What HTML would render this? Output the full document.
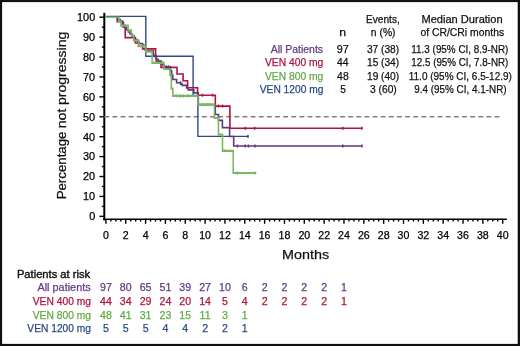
<!DOCTYPE html>
<html><head><meta charset="utf-8"><style>
html,body{margin:0;padding:0;background:#fff;}
body{width:520px;height:346px;overflow:hidden;}
svg{position:absolute;left:0;top:0;will-change:transform;}
text{font-family:"Liberation Sans",sans-serif;stroke:currentColor;stroke-width:0.25px;}
</style></head><body>
<svg width="520" height="346" viewBox="0 0 520 346">
<rect x="0" y="0" width="520" height="346" fill="#fff"/>
<line x1="104.3" y1="12.8" x2="104.3" y2="220.4" stroke="#000" stroke-width="2"/>
<line x1="103.3" y1="219.2" x2="506.9" y2="219.2" stroke="#000" stroke-width="1.4"/>
<line x1="99.4" y1="216.35" x2="104.3" y2="216.35" stroke="#000" stroke-width="1.4"/>
<line x1="101.8" y1="206.39" x2="104.3" y2="206.39" stroke="#000" stroke-width="1.4"/>
<line x1="99.4" y1="196.44" x2="104.3" y2="196.44" stroke="#000" stroke-width="1.4"/>
<line x1="101.8" y1="186.48" x2="104.3" y2="186.48" stroke="#000" stroke-width="1.4"/>
<line x1="99.4" y1="176.52" x2="104.3" y2="176.52" stroke="#000" stroke-width="1.4"/>
<line x1="101.8" y1="166.56" x2="104.3" y2="166.56" stroke="#000" stroke-width="1.4"/>
<line x1="99.4" y1="156.60" x2="104.3" y2="156.60" stroke="#000" stroke-width="1.4"/>
<line x1="101.8" y1="146.65" x2="104.3" y2="146.65" stroke="#000" stroke-width="1.4"/>
<line x1="99.4" y1="136.69" x2="104.3" y2="136.69" stroke="#000" stroke-width="1.4"/>
<line x1="101.8" y1="126.73" x2="104.3" y2="126.73" stroke="#000" stroke-width="1.4"/>
<line x1="99.4" y1="116.77" x2="104.3" y2="116.77" stroke="#000" stroke-width="1.4"/>
<line x1="101.8" y1="106.82" x2="104.3" y2="106.82" stroke="#000" stroke-width="1.4"/>
<line x1="99.4" y1="96.86" x2="104.3" y2="96.86" stroke="#000" stroke-width="1.4"/>
<line x1="101.8" y1="86.90" x2="104.3" y2="86.90" stroke="#000" stroke-width="1.4"/>
<line x1="99.4" y1="76.94" x2="104.3" y2="76.94" stroke="#000" stroke-width="1.4"/>
<line x1="101.8" y1="66.99" x2="104.3" y2="66.99" stroke="#000" stroke-width="1.4"/>
<line x1="99.4" y1="57.03" x2="104.3" y2="57.03" stroke="#000" stroke-width="1.4"/>
<line x1="101.8" y1="47.07" x2="104.3" y2="47.07" stroke="#000" stroke-width="1.4"/>
<line x1="99.4" y1="37.11" x2="104.3" y2="37.11" stroke="#000" stroke-width="1.4"/>
<line x1="101.8" y1="27.16" x2="104.3" y2="27.16" stroke="#000" stroke-width="1.4"/>
<line x1="99.4" y1="17.20" x2="104.3" y2="17.20" stroke="#000" stroke-width="1.4"/>
<line x1="105.90" y1="219.2" x2="105.90" y2="223.8" stroke="#000" stroke-width="1.4"/>
<line x1="110.86" y1="219.2" x2="110.86" y2="221.6" stroke="#000" stroke-width="1.4"/>
<line x1="115.82" y1="219.2" x2="115.82" y2="221.6" stroke="#000" stroke-width="1.4"/>
<line x1="120.78" y1="219.2" x2="120.78" y2="221.6" stroke="#000" stroke-width="1.4"/>
<line x1="125.74" y1="219.2" x2="125.74" y2="223.8" stroke="#000" stroke-width="1.4"/>
<line x1="130.70" y1="219.2" x2="130.70" y2="221.6" stroke="#000" stroke-width="1.4"/>
<line x1="135.66" y1="219.2" x2="135.66" y2="221.6" stroke="#000" stroke-width="1.4"/>
<line x1="140.62" y1="219.2" x2="140.62" y2="221.6" stroke="#000" stroke-width="1.4"/>
<line x1="145.58" y1="219.2" x2="145.58" y2="223.8" stroke="#000" stroke-width="1.4"/>
<line x1="150.54" y1="219.2" x2="150.54" y2="221.6" stroke="#000" stroke-width="1.4"/>
<line x1="155.50" y1="219.2" x2="155.50" y2="221.6" stroke="#000" stroke-width="1.4"/>
<line x1="160.46" y1="219.2" x2="160.46" y2="221.6" stroke="#000" stroke-width="1.4"/>
<line x1="165.42" y1="219.2" x2="165.42" y2="223.8" stroke="#000" stroke-width="1.4"/>
<line x1="170.38" y1="219.2" x2="170.38" y2="221.6" stroke="#000" stroke-width="1.4"/>
<line x1="175.34" y1="219.2" x2="175.34" y2="221.6" stroke="#000" stroke-width="1.4"/>
<line x1="180.30" y1="219.2" x2="180.30" y2="221.6" stroke="#000" stroke-width="1.4"/>
<line x1="185.26" y1="219.2" x2="185.26" y2="223.8" stroke="#000" stroke-width="1.4"/>
<line x1="190.22" y1="219.2" x2="190.22" y2="221.6" stroke="#000" stroke-width="1.4"/>
<line x1="195.18" y1="219.2" x2="195.18" y2="221.6" stroke="#000" stroke-width="1.4"/>
<line x1="200.14" y1="219.2" x2="200.14" y2="221.6" stroke="#000" stroke-width="1.4"/>
<line x1="205.10" y1="219.2" x2="205.10" y2="223.8" stroke="#000" stroke-width="1.4"/>
<line x1="210.06" y1="219.2" x2="210.06" y2="221.6" stroke="#000" stroke-width="1.4"/>
<line x1="215.02" y1="219.2" x2="215.02" y2="221.6" stroke="#000" stroke-width="1.4"/>
<line x1="219.98" y1="219.2" x2="219.98" y2="221.6" stroke="#000" stroke-width="1.4"/>
<line x1="224.94" y1="219.2" x2="224.94" y2="223.8" stroke="#000" stroke-width="1.4"/>
<line x1="229.90" y1="219.2" x2="229.90" y2="221.6" stroke="#000" stroke-width="1.4"/>
<line x1="234.86" y1="219.2" x2="234.86" y2="221.6" stroke="#000" stroke-width="1.4"/>
<line x1="239.82" y1="219.2" x2="239.82" y2="221.6" stroke="#000" stroke-width="1.4"/>
<line x1="244.78" y1="219.2" x2="244.78" y2="223.8" stroke="#000" stroke-width="1.4"/>
<line x1="249.74" y1="219.2" x2="249.74" y2="221.6" stroke="#000" stroke-width="1.4"/>
<line x1="254.70" y1="219.2" x2="254.70" y2="221.6" stroke="#000" stroke-width="1.4"/>
<line x1="259.66" y1="219.2" x2="259.66" y2="221.6" stroke="#000" stroke-width="1.4"/>
<line x1="264.62" y1="219.2" x2="264.62" y2="223.8" stroke="#000" stroke-width="1.4"/>
<line x1="269.58" y1="219.2" x2="269.58" y2="221.6" stroke="#000" stroke-width="1.4"/>
<line x1="274.54" y1="219.2" x2="274.54" y2="221.6" stroke="#000" stroke-width="1.4"/>
<line x1="279.50" y1="219.2" x2="279.50" y2="221.6" stroke="#000" stroke-width="1.4"/>
<line x1="284.46" y1="219.2" x2="284.46" y2="223.8" stroke="#000" stroke-width="1.4"/>
<line x1="289.42" y1="219.2" x2="289.42" y2="221.6" stroke="#000" stroke-width="1.4"/>
<line x1="294.38" y1="219.2" x2="294.38" y2="221.6" stroke="#000" stroke-width="1.4"/>
<line x1="299.34" y1="219.2" x2="299.34" y2="221.6" stroke="#000" stroke-width="1.4"/>
<line x1="304.30" y1="219.2" x2="304.30" y2="223.8" stroke="#000" stroke-width="1.4"/>
<line x1="309.26" y1="219.2" x2="309.26" y2="221.6" stroke="#000" stroke-width="1.4"/>
<line x1="314.22" y1="219.2" x2="314.22" y2="221.6" stroke="#000" stroke-width="1.4"/>
<line x1="319.18" y1="219.2" x2="319.18" y2="221.6" stroke="#000" stroke-width="1.4"/>
<line x1="324.14" y1="219.2" x2="324.14" y2="223.8" stroke="#000" stroke-width="1.4"/>
<line x1="329.10" y1="219.2" x2="329.10" y2="221.6" stroke="#000" stroke-width="1.4"/>
<line x1="334.06" y1="219.2" x2="334.06" y2="221.6" stroke="#000" stroke-width="1.4"/>
<line x1="339.02" y1="219.2" x2="339.02" y2="221.6" stroke="#000" stroke-width="1.4"/>
<line x1="343.98" y1="219.2" x2="343.98" y2="223.8" stroke="#000" stroke-width="1.4"/>
<line x1="348.94" y1="219.2" x2="348.94" y2="221.6" stroke="#000" stroke-width="1.4"/>
<line x1="353.90" y1="219.2" x2="353.90" y2="221.6" stroke="#000" stroke-width="1.4"/>
<line x1="358.86" y1="219.2" x2="358.86" y2="221.6" stroke="#000" stroke-width="1.4"/>
<line x1="363.82" y1="219.2" x2="363.82" y2="223.8" stroke="#000" stroke-width="1.4"/>
<line x1="368.78" y1="219.2" x2="368.78" y2="221.6" stroke="#000" stroke-width="1.4"/>
<line x1="373.74" y1="219.2" x2="373.74" y2="221.6" stroke="#000" stroke-width="1.4"/>
<line x1="378.70" y1="219.2" x2="378.70" y2="221.6" stroke="#000" stroke-width="1.4"/>
<line x1="383.66" y1="219.2" x2="383.66" y2="223.8" stroke="#000" stroke-width="1.4"/>
<line x1="388.62" y1="219.2" x2="388.62" y2="221.6" stroke="#000" stroke-width="1.4"/>
<line x1="393.58" y1="219.2" x2="393.58" y2="221.6" stroke="#000" stroke-width="1.4"/>
<line x1="398.54" y1="219.2" x2="398.54" y2="221.6" stroke="#000" stroke-width="1.4"/>
<line x1="403.50" y1="219.2" x2="403.50" y2="223.8" stroke="#000" stroke-width="1.4"/>
<line x1="408.46" y1="219.2" x2="408.46" y2="221.6" stroke="#000" stroke-width="1.4"/>
<line x1="413.42" y1="219.2" x2="413.42" y2="221.6" stroke="#000" stroke-width="1.4"/>
<line x1="418.38" y1="219.2" x2="418.38" y2="221.6" stroke="#000" stroke-width="1.4"/>
<line x1="423.34" y1="219.2" x2="423.34" y2="223.8" stroke="#000" stroke-width="1.4"/>
<line x1="428.30" y1="219.2" x2="428.30" y2="221.6" stroke="#000" stroke-width="1.4"/>
<line x1="433.26" y1="219.2" x2="433.26" y2="221.6" stroke="#000" stroke-width="1.4"/>
<line x1="438.22" y1="219.2" x2="438.22" y2="221.6" stroke="#000" stroke-width="1.4"/>
<line x1="443.18" y1="219.2" x2="443.18" y2="223.8" stroke="#000" stroke-width="1.4"/>
<line x1="448.14" y1="219.2" x2="448.14" y2="221.6" stroke="#000" stroke-width="1.4"/>
<line x1="453.10" y1="219.2" x2="453.10" y2="221.6" stroke="#000" stroke-width="1.4"/>
<line x1="458.06" y1="219.2" x2="458.06" y2="221.6" stroke="#000" stroke-width="1.4"/>
<line x1="463.02" y1="219.2" x2="463.02" y2="223.8" stroke="#000" stroke-width="1.4"/>
<line x1="467.98" y1="219.2" x2="467.98" y2="221.6" stroke="#000" stroke-width="1.4"/>
<line x1="472.94" y1="219.2" x2="472.94" y2="221.6" stroke="#000" stroke-width="1.4"/>
<line x1="477.90" y1="219.2" x2="477.90" y2="221.6" stroke="#000" stroke-width="1.4"/>
<line x1="482.86" y1="219.2" x2="482.86" y2="223.8" stroke="#000" stroke-width="1.4"/>
<line x1="487.82" y1="219.2" x2="487.82" y2="221.6" stroke="#000" stroke-width="1.4"/>
<line x1="492.78" y1="219.2" x2="492.78" y2="221.6" stroke="#000" stroke-width="1.4"/>
<line x1="497.74" y1="219.2" x2="497.74" y2="221.6" stroke="#000" stroke-width="1.4"/>
<line x1="502.70" y1="219.2" x2="502.70" y2="223.8" stroke="#000" stroke-width="1.4"/>
<text x="95.2" y="220.20" text-anchor="end" font-size="10.9">0</text>
<text x="95.2" y="200.28" text-anchor="end" font-size="10.9">10</text>
<text x="95.2" y="180.37" text-anchor="end" font-size="10.9">20</text>
<text x="95.2" y="160.45" text-anchor="end" font-size="10.9">30</text>
<text x="95.2" y="140.54" text-anchor="end" font-size="10.9">40</text>
<text x="95.2" y="120.62" text-anchor="end" font-size="10.9">50</text>
<text x="95.2" y="100.71" text-anchor="end" font-size="10.9">60</text>
<text x="95.2" y="80.79" text-anchor="end" font-size="10.9">70</text>
<text x="95.2" y="60.88" text-anchor="end" font-size="10.9">80</text>
<text x="95.2" y="40.96" text-anchor="end" font-size="10.9">90</text>
<text x="95.2" y="21.05" text-anchor="end" font-size="10.9">100</text>
<text x="105.90" y="238.8" text-anchor="middle" font-size="10.6">0</text>
<text x="125.74" y="238.8" text-anchor="middle" font-size="10.6">2</text>
<text x="145.58" y="238.8" text-anchor="middle" font-size="10.6">4</text>
<text x="165.42" y="238.8" text-anchor="middle" font-size="10.6">6</text>
<text x="185.26" y="238.8" text-anchor="middle" font-size="10.6">8</text>
<text x="205.10" y="238.8" text-anchor="middle" font-size="10.6">10</text>
<text x="224.94" y="238.8" text-anchor="middle" font-size="10.6">12</text>
<text x="244.78" y="238.8" text-anchor="middle" font-size="10.6">14</text>
<text x="264.62" y="238.8" text-anchor="middle" font-size="10.6">16</text>
<text x="284.46" y="238.8" text-anchor="middle" font-size="10.6">18</text>
<text x="304.30" y="238.8" text-anchor="middle" font-size="10.6">20</text>
<text x="324.14" y="238.8" text-anchor="middle" font-size="10.6">22</text>
<text x="343.98" y="238.8" text-anchor="middle" font-size="10.6">24</text>
<text x="363.82" y="238.8" text-anchor="middle" font-size="10.6">26</text>
<text x="383.66" y="238.8" text-anchor="middle" font-size="10.6">28</text>
<text x="403.50" y="238.8" text-anchor="middle" font-size="10.6">30</text>
<text x="423.34" y="238.8" text-anchor="middle" font-size="10.6">32</text>
<text x="443.18" y="238.8" text-anchor="middle" font-size="10.6">34</text>
<text x="463.02" y="238.8" text-anchor="middle" font-size="10.6">36</text>
<text x="482.86" y="238.8" text-anchor="middle" font-size="10.6">38</text>
<text x="502.70" y="238.8" text-anchor="middle" font-size="10.6">40</text>
<line x1="104.3" y1="116.8" x2="502" y2="116.8" stroke="#808080" stroke-width="1.5" stroke-dasharray="4.9 3.23"/>
<path d="M105.7,16.4H145.8V56.2H193.1V96.0H197.9V136.4H248.0" fill="none" stroke="#2d4b82" stroke-width="1.4"/>
<path d="M117.3,17.0H117.3V21.8H123.0V27.0H125.2V37.6H135.3V43.0H138.5V46.3H142.6V48.9H155.6V56.0H156.3V61.3H161.0V67.4H177.0V74.0H183.1V80.8H187.6V87.8H197.6V95.3H215.3V106.1H229.9V128.3H362.0" fill="none" stroke="#b0143d" stroke-width="1.6"/>
<path d="M117.3,17.0H117.3V19.5H120.3V21.0H122.2V23.0H123.5V25.3H125.0V27.5H126.5V30.0H128.4V32.0H130.0V34.0H132.0V36.0H134.2V38.2H135.6V40.0H137.5V42.0H139.1V43.5H142.6V45.3H145.4V50.8H153.3V55.3H155.3V57.0H156.3V59.3H158.3V61.3H161.4V62.5H162.4V64.9H164.2V66.9H170.6V70.7H171.6V75.0H172.8V79.5H176.6V82.8H180.8V84.1H182.2V85.4H186.6V88.0H188.2V89.9H193.8V92.9H198.3V104.6H215.3V114.5H218.5V120.4H222.4V127.6H229.6V136.5H233.7V146.0H362.0" fill="none" stroke="#5f3a7b" stroke-width="1.6"/>
<path d="M118.8,12.321H118.8V15.286H120.9V18.357H128.1V21.714H131.4V25.357H133.6V28.929H138.7V32.929H145.8V36.857H152.1V44.929H163.9V49.286H170.0V53.929H171.3V63.286H172.9V68.500H197.9V74.786H214.4V84.286H218.5V96.143H222.5V107.714H233.2V123.571H255.6" transform="scale(1,1.4)" fill="none" stroke="#7cb862" stroke-width="1.55"/>
<line x1="105.7" y1="17.2" x2="119.6" y2="17.2" stroke="#7cb862" stroke-width="1.4"/>
<line x1="202.4" y1="93.70" x2="202.4" y2="96.70" stroke="#b0143d" stroke-width="1.5"/>
<line x1="212.6" y1="93.70" x2="212.6" y2="96.70" stroke="#b0143d" stroke-width="1.5"/>
<line x1="218.5" y1="104.60" x2="218.5" y2="107.60" stroke="#b0143d" stroke-width="1.5"/>
<line x1="222.6" y1="104.60" x2="222.6" y2="107.60" stroke="#b0143d" stroke-width="1.5"/>
<line x1="245.4" y1="126.80" x2="245.4" y2="129.80" stroke="#b0143d" stroke-width="1.5"/>
<line x1="254.6" y1="126.80" x2="254.6" y2="129.80" stroke="#b0143d" stroke-width="1.5"/>
<line x1="342.8" y1="126.80" x2="342.8" y2="129.80" stroke="#b0143d" stroke-width="1.5"/>
<line x1="362" y1="126.80" x2="362" y2="129.80" stroke="#b0143d" stroke-width="1.5"/>
<line x1="166.5" y1="65.40" x2="166.5" y2="68.40" stroke="#5f3a7b" stroke-width="1.5"/>
<line x1="168.7" y1="65.40" x2="168.7" y2="68.40" stroke="#5f3a7b" stroke-width="1.5"/>
<line x1="180.4" y1="81.30" x2="180.4" y2="84.30" stroke="#5f3a7b" stroke-width="1.5"/>
<line x1="237.4" y1="144.50" x2="237.4" y2="147.50" stroke="#5f3a7b" stroke-width="1.5"/>
<line x1="245.3" y1="144.50" x2="245.3" y2="147.50" stroke="#5f3a7b" stroke-width="1.5"/>
<line x1="248.5" y1="144.50" x2="248.5" y2="147.50" stroke="#5f3a7b" stroke-width="1.5"/>
<line x1="254.9" y1="144.50" x2="254.9" y2="147.50" stroke="#5f3a7b" stroke-width="1.5"/>
<line x1="342.8" y1="144.50" x2="342.8" y2="147.50" stroke="#5f3a7b" stroke-width="1.5"/>
<line x1="362" y1="144.50" x2="362" y2="147.50" stroke="#5f3a7b" stroke-width="1.5"/>
<line x1="176.4" y1="94.40" x2="176.4" y2="97.40" stroke="#7cb862" stroke-width="1.5"/>
<line x1="180.2" y1="94.40" x2="180.2" y2="97.40" stroke="#7cb862" stroke-width="1.5"/>
<line x1="182.9" y1="94.40" x2="182.9" y2="97.40" stroke="#7cb862" stroke-width="1.5"/>
<line x1="188.4" y1="94.40" x2="188.4" y2="97.40" stroke="#7cb862" stroke-width="1.5"/>
<line x1="201.5" y1="103.20" x2="201.5" y2="106.20" stroke="#7cb862" stroke-width="1.5"/>
<line x1="204.5" y1="103.20" x2="204.5" y2="106.20" stroke="#7cb862" stroke-width="1.5"/>
<line x1="207.5" y1="103.20" x2="207.5" y2="106.20" stroke="#7cb862" stroke-width="1.5"/>
<line x1="210.5" y1="103.20" x2="210.5" y2="106.20" stroke="#7cb862" stroke-width="1.5"/>
<line x1="224.2" y1="149.30" x2="224.2" y2="152.30" stroke="#7cb862" stroke-width="1.5"/>
<line x1="237.4" y1="171.50" x2="237.4" y2="174.50" stroke="#7cb862" stroke-width="1.5"/>
<line x1="255.5" y1="171.50" x2="255.5" y2="174.50" stroke="#7cb862" stroke-width="1.5"/>
<line x1="248.0" y1="134.90" x2="248.0" y2="137.90" stroke="#2d4b82" stroke-width="1.5"/>
<text transform="rotate(-90)" x="-199.36" y="65.6" font-size="13.2" fill="#111" color="#111" textLength="67.86" lengthAdjust="spacingAndGlyphs">Percentage</text>
<text transform="rotate(-90)" x="-128.32" y="65.6" font-size="13.2" fill="#111" color="#111" textLength="19.66" lengthAdjust="spacingAndGlyphs">not</text>
<text transform="rotate(-90)" x="-105.01" y="65.6" font-size="13.2" fill="#111" color="#111" textLength="73.23" lengthAdjust="spacingAndGlyphs">progressing</text>
<text x="365.89" y="22.7" font-size="11.1" fill="#111" color="#111" textLength="33.93" lengthAdjust="spacingAndGlyphs">Events,</text>
<text x="421.41" y="22.6" font-size="11.1" fill="#111" color="#111" textLength="81.23" lengthAdjust="spacingAndGlyphs">Median Duration</text>
<text x="339.20" y="35.5" font-size="11.1" fill="#111" color="#111" textLength="6.80" lengthAdjust="spacingAndGlyphs">n</text>
<text x="370.83" y="35.5" font-size="11.1" fill="#111" color="#111" textLength="24.74" lengthAdjust="spacingAndGlyphs">n (%)</text>
<text x="420.38" y="35.6" font-size="11.1" fill="#111" color="#111" textLength="83.76" lengthAdjust="spacingAndGlyphs">of CR/CRi months</text>
<text x="270.80" y="52.5" font-size="11.1" fill="#613b80" color="#613b80" textLength="52.24" lengthAdjust="spacingAndGlyphs">All Patients</text>
<text x="336.81" y="52.5" font-size="11.1" fill="#111" color="#111" textLength="12.05" lengthAdjust="spacingAndGlyphs">97</text>
<text x="366.89" y="52.5" font-size="11.1" fill="#111" color="#111" textLength="32.25" lengthAdjust="spacingAndGlyphs">37 (38)</text>
<text x="411.36" y="52.5" font-size="11.1" fill="#111" color="#111" textLength="96.97" lengthAdjust="spacingAndGlyphs">11.3 (95% CI, 8.9-NR)</text>
<text x="264.95" y="66.2" font-size="11.1" fill="#b0123e" color="#b0123e" textLength="58.42" lengthAdjust="spacingAndGlyphs">VEN 400 mg</text>
<text x="337.09" y="66.2" font-size="11.1" fill="#111" color="#111" textLength="11.54" lengthAdjust="spacingAndGlyphs">44</text>
<text x="367.04" y="66.2" font-size="11.1" fill="#111" color="#111" textLength="32.10" lengthAdjust="spacingAndGlyphs">15 (34)</text>
<text x="411.36" y="66.2" font-size="11.1" fill="#111" color="#111" textLength="96.95" lengthAdjust="spacingAndGlyphs">12.5 (95% CI, 7.8-NR)</text>
<text x="264.95" y="79.8" font-size="11.1" fill="#62aa44" color="#62aa44" textLength="58.42" lengthAdjust="spacingAndGlyphs">VEN 800 mg</text>
<text x="337.09" y="79.8" font-size="11.1" fill="#111" color="#111" textLength="11.65" lengthAdjust="spacingAndGlyphs">48</text>
<text x="367.04" y="79.8" font-size="11.1" fill="#111" color="#111" textLength="32.10" lengthAdjust="spacingAndGlyphs">19 (40)</text>
<text x="408.75" y="79.8" font-size="11.1" fill="#111" color="#111" textLength="103.10" lengthAdjust="spacingAndGlyphs">11.0 (95% CI, 6.5-12.9)</text>
<text x="259.75" y="93.3" font-size="11.1" fill="#2b4a85" color="#2b4a85" textLength="63.62" lengthAdjust="spacingAndGlyphs">VEN 1200 mg</text>
<text x="340.20" y="93.3" font-size="11.1" fill="#111" color="#111" textLength="5.62" lengthAdjust="spacingAndGlyphs">5</text>
<text x="369.99" y="93.3" font-size="11.1" fill="#111" color="#111" textLength="26.75" lengthAdjust="spacingAndGlyphs">3 (60)</text>
<text x="414.25" y="93.3" font-size="11.1" fill="#111" color="#111" textLength="92.35" lengthAdjust="spacingAndGlyphs">9.4 (95% CI, 4.1-NR)</text>
<text x="16.91" y="277.6" font-size="11.6" fill="#111" color="#111" textLength="73.27" lengthAdjust="spacingAndGlyphs" style="stroke-width:0.4px">Patients at risk</text>
<text x="37.40" y="291.2" font-size="11.2" fill="#613b80" color="#613b80" textLength="53.30" lengthAdjust="spacingAndGlyphs">All patients</text>
<text x="105.90" y="291.2" text-anchor="middle" font-size="10.6" fill="#613b80" color="#613b80">97</text>
<text x="125.74" y="291.2" text-anchor="middle" font-size="10.6" fill="#613b80" color="#613b80">80</text>
<text x="145.58" y="291.2" text-anchor="middle" font-size="10.6" fill="#613b80" color="#613b80">65</text>
<text x="165.42" y="291.2" text-anchor="middle" font-size="10.6" fill="#613b80" color="#613b80">51</text>
<text x="185.26" y="291.2" text-anchor="middle" font-size="10.6" fill="#613b80" color="#613b80">39</text>
<text x="205.10" y="291.2" text-anchor="middle" font-size="10.6" fill="#613b80" color="#613b80">27</text>
<text x="224.94" y="291.2" text-anchor="middle" font-size="10.6" fill="#613b80" color="#613b80">10</text>
<text x="244.78" y="291.2" text-anchor="middle" font-size="10.6" fill="#613b80" color="#613b80">6</text>
<text x="264.62" y="291.2" text-anchor="middle" font-size="10.6" fill="#613b80" color="#613b80">2</text>
<text x="284.46" y="291.2" text-anchor="middle" font-size="10.6" fill="#613b80" color="#613b80">2</text>
<text x="304.30" y="291.2" text-anchor="middle" font-size="10.6" fill="#613b80" color="#613b80">2</text>
<text x="324.14" y="291.2" text-anchor="middle" font-size="10.6" fill="#613b80" color="#613b80">2</text>
<text x="343.98" y="291.2" text-anchor="middle" font-size="10.6" fill="#613b80" color="#613b80">1</text>
<text x="32.75" y="305.0" font-size="11.2" fill="#b0123e" color="#b0123e" textLength="58.21" lengthAdjust="spacingAndGlyphs">VEN 400 mg</text>
<text x="105.90" y="305.0" text-anchor="middle" font-size="10.6" fill="#b0123e" color="#b0123e">44</text>
<text x="125.74" y="305.0" text-anchor="middle" font-size="10.6" fill="#b0123e" color="#b0123e">34</text>
<text x="145.58" y="305.0" text-anchor="middle" font-size="10.6" fill="#b0123e" color="#b0123e">29</text>
<text x="165.42" y="305.0" text-anchor="middle" font-size="10.6" fill="#b0123e" color="#b0123e">24</text>
<text x="185.26" y="305.0" text-anchor="middle" font-size="10.6" fill="#b0123e" color="#b0123e">20</text>
<text x="205.10" y="305.0" text-anchor="middle" font-size="10.6" fill="#b0123e" color="#b0123e">14</text>
<text x="224.94" y="305.0" text-anchor="middle" font-size="10.6" fill="#b0123e" color="#b0123e">5</text>
<text x="244.78" y="305.0" text-anchor="middle" font-size="10.6" fill="#b0123e" color="#b0123e">4</text>
<text x="264.62" y="305.0" text-anchor="middle" font-size="10.6" fill="#b0123e" color="#b0123e">2</text>
<text x="284.46" y="305.0" text-anchor="middle" font-size="10.6" fill="#b0123e" color="#b0123e">2</text>
<text x="304.30" y="305.0" text-anchor="middle" font-size="10.6" fill="#b0123e" color="#b0123e">2</text>
<text x="324.14" y="305.0" text-anchor="middle" font-size="10.6" fill="#b0123e" color="#b0123e">2</text>
<text x="343.98" y="305.0" text-anchor="middle" font-size="10.6" fill="#b0123e" color="#b0123e">1</text>
<text x="32.75" y="318.6" font-size="11.2" fill="#62aa44" color="#62aa44" textLength="58.21" lengthAdjust="spacingAndGlyphs">VEN 800 mg</text>
<text x="105.90" y="318.6" text-anchor="middle" font-size="10.6" fill="#62aa44" color="#62aa44">48</text>
<text x="125.74" y="318.6" text-anchor="middle" font-size="10.6" fill="#62aa44" color="#62aa44">41</text>
<text x="145.58" y="318.6" text-anchor="middle" font-size="10.6" fill="#62aa44" color="#62aa44">31</text>
<text x="165.42" y="318.6" text-anchor="middle" font-size="10.6" fill="#62aa44" color="#62aa44">23</text>
<text x="185.26" y="318.6" text-anchor="middle" font-size="10.6" fill="#62aa44" color="#62aa44">15</text>
<text x="205.10" y="318.6" text-anchor="middle" font-size="10.6" fill="#62aa44" color="#62aa44">11</text>
<text x="224.94" y="318.6" text-anchor="middle" font-size="10.6" fill="#62aa44" color="#62aa44">3</text>
<text x="244.78" y="318.6" text-anchor="middle" font-size="10.6" fill="#62aa44" color="#62aa44">1</text>
<text x="27.35" y="332.3" font-size="11.2" fill="#2b4a85" color="#2b4a85" textLength="63.62" lengthAdjust="spacingAndGlyphs">VEN 1200 mg</text>
<text x="105.90" y="332.3" text-anchor="middle" font-size="10.6" fill="#2b4a85" color="#2b4a85">5</text>
<text x="125.74" y="332.3" text-anchor="middle" font-size="10.6" fill="#2b4a85" color="#2b4a85">5</text>
<text x="145.58" y="332.3" text-anchor="middle" font-size="10.6" fill="#2b4a85" color="#2b4a85">5</text>
<text x="165.42" y="332.3" text-anchor="middle" font-size="10.6" fill="#2b4a85" color="#2b4a85">4</text>
<text x="185.26" y="332.3" text-anchor="middle" font-size="10.6" fill="#2b4a85" color="#2b4a85">4</text>
<text x="205.10" y="332.3" text-anchor="middle" font-size="10.6" fill="#2b4a85" color="#2b4a85">2</text>
<text x="224.94" y="332.3" text-anchor="middle" font-size="10.6" fill="#2b4a85" color="#2b4a85">2</text>
<text x="244.78" y="332.3" text-anchor="middle" font-size="10.6" fill="#2b4a85" color="#2b4a85">1</text>
<text x="282.05" y="258.9" font-size="13.6" fill="#111" color="#111" textLength="47.04" lengthAdjust="spacingAndGlyphs">Months</text>
<rect x="0" y="0" width="2.1" height="346" fill="#111"/>
<rect x="0" y="0" width="520" height="2.1" fill="#111"/>
<rect x="517.7" y="0" width="2.3" height="346" fill="#111"/>
<rect x="0" y="343.9" width="520" height="2.1" fill="#111"/>
</svg>
</body></html>
